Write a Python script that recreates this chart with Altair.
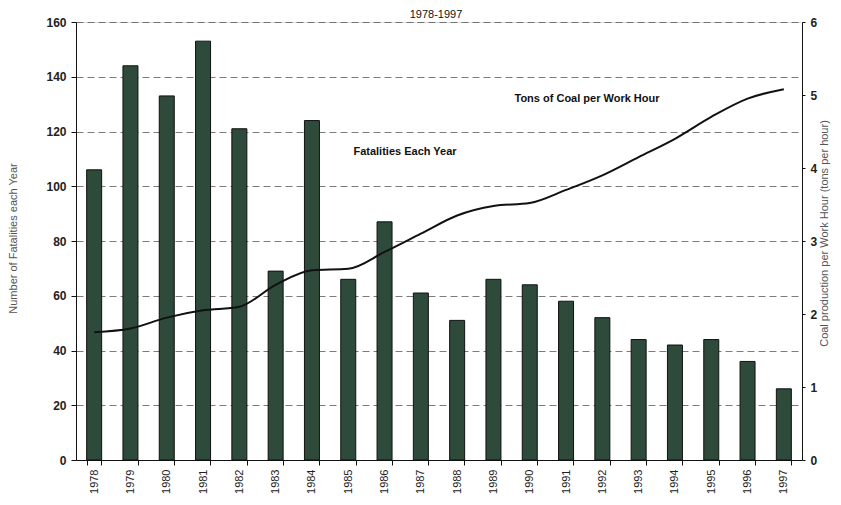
import altair as alt
import pandas as pd

years = [str(y) for y in range(1978, 1998)]
fatalities = [106, 144, 133, 153, 121, 69, 124, 66, 87, 61, 51, 66, 64, 58, 52, 44, 42, 44, 36, 26]
tons_per_hour = [1.75, 1.8, 1.95, 2.05, 2.1, 2.4, 2.6, 2.62, 2.85, 3.1, 3.35, 3.48, 3.52, 3.7, 3.9, 4.15, 4.4, 4.7, 4.95, 5.08]
left_ticks = [0, 20, 40, 60, 80, 100, 120, 140, 160]
right_ticks = [0, 1, 2, 3, 4, 5, 6]

df = pd.DataFrame({"year": years, "fatalities": fatalities, "tons": tons_per_hour})

FONT = "Liberation Sans"
W, H = 726, 438

x = alt.X("year:N", sort=years, title=None,
          scale=alt.Scale(paddingInner=0.6, paddingOuter=0.3),
          axis=alt.Axis(labelAngle=270, labelFontSize=11, labelColor="#222",
                        labelFont=FONT, tickBand="extent", tickSize=5,
                        domainColor="#111", tickColor="#111", labelPadding=4))

bars = alt.Chart(df).mark_bar(color="#2e4a3b", stroke="#111", strokeWidth=1, size=15).encode(
    x=x,
    y=alt.Y("fatalities:Q", scale=alt.Scale(domain=[0, 160]),
            title="Number of Fatalities each Year",
            axis=alt.Axis(values=left_ticks, grid=True, gridDash=[7, 4], gridColor="#444",
                          gridOpacity=0.7, labelFontSize=12, labelFontWeight="bold",
                          labelColor="#222", labelFont=FONT, tickSize=5, labelPadding=5,
                          domainColor="#111", tickColor="#111",
                          titleFontSize=11, titleFontWeight="normal", titleColor="#555",
                          titleFont=FONT, titleX=-58, titleY=216, titleAngle=270))
)

line = alt.Chart(df).mark_line(color="#111", strokeWidth=2, interpolate="monotone").encode(
    x=x,
    y=alt.Y("tons:Q", scale=alt.Scale(domain=[0, 6]),
            title="Coal production per Work Hour (tons per hour)",
            axis=alt.Axis(orient="right", values=right_ticks, grid=False,
                          labelFontSize=12, labelFontWeight="bold", labelColor="#222",
                          labelFont=FONT, tickSize=3, labelPadding=5,
                          domainColor="#111", tickColor="#111",
                          titleFontSize=11, titleFontWeight="normal", titleColor="#555",
                          titleFont=FONT, titleX=27, titleY=211, titleAngle=270))
)

ann1 = alt.Chart(pd.DataFrame({"t": ["Tons of Coal per Work Hour"]})).mark_text(
    font=FONT, fontSize=11, fontWeight="bold", color="#111").encode(
    text="t:N", x=alt.value(511), y=alt.value(77))
ann2 = alt.Chart(pd.DataFrame({"t": ["Fatalities Each Year"]})).mark_text(
    font=FONT, fontSize=11, fontWeight="bold", color="#111").encode(
    text="t:N", x=alt.value(329), y=alt.value(130))
title = alt.Chart(pd.DataFrame({"t": ["1978-1997"]})).mark_text(
    font=FONT, fontSize=11, color="#111", baseline="bottom").encode(
    text="t:N", x=alt.value(360), y=alt.value(-2))

chart = alt.layer(bars, line, ann1, ann2, title).resolve_scale(y="independent").properties(
    width=W, height=H,
    padding={"left": 68, "top": 14, "right": 31, "bottom": 37},
    autosize=alt.AutoSizeParams(type="none"),
).configure_view(stroke="#111", strokeWidth=1.5).configure(background="white")

chart.save("out.html", embed_options={"renderer": "svg", "actions": False})
